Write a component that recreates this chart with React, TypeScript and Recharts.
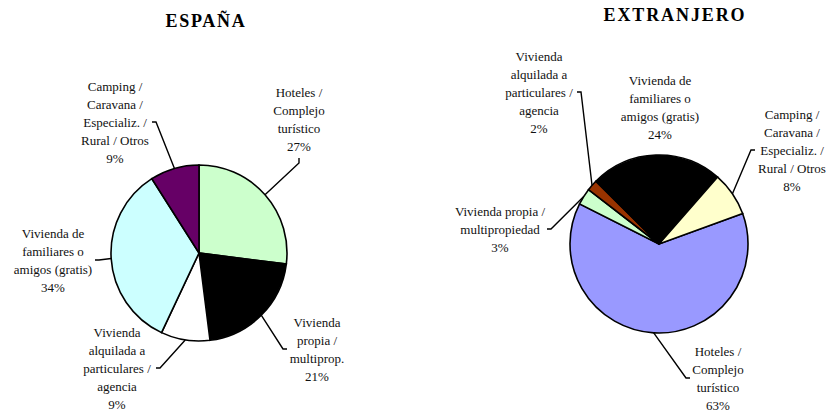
import { PieChart, Pie, Cell } from 'recharts';

// categories in drawing order (clockwise)
const categories = [
  'Hoteles / Complejo turístico',
  'Vivienda propia / multipropiedad',
  'Vivienda alquilada a particulares / agencia',
  'Vivienda de familiares o amigos (gratis)',
  'Camping / Caravana / Especializ. / Rural / Otros',
];

const spainValues = [27, 21, 9, 34, 9];
const abroadValues = [63, 3, 2, 24, 8];

// label text as it wraps on each chart
const spainLines = [
  ['Hoteles /', 'Complejo', 'turístico'],
  ['Vivienda', 'propia /', 'multiprop.'],
  ['Vivienda', 'alquilada a', 'particulares /', 'agencia'],
  ['Vivienda de', 'familiares o', 'amigos (gratis)'],
  ['Camping /', 'Caravana /', 'Especializ. /', 'Rural / Otros'],
];
const abroadLines = [
  ['Hoteles /', 'Complejo', 'turístico'],
  ['Vivienda propia /', 'multipropiedad'],
  ['Vivienda', 'alquilada a', 'particulares /', 'agencia'],
  ['Vivienda de', 'familiares o', 'amigos (gratis)'],
  ['Camping /', 'Caravana /', 'Especializ. /', 'Rural / Otros'],
];

const spainColors = ['#CCFFCC', '#000000', '#FFFFFF', '#CCFFFF', '#660066'];
const abroadColors = ['#9999FF', '#CCFFCC', '#993300', '#000000', '#FFFFCC'];

type Side = 'left' | 'right' | 'bottom' | 'none';
interface LabelPos { dx: number; dy: number; hw: number; side: Side }

// where each label block sits, relative to its pie centre
const spainLabelPos: LabelPos[] = [
  { dx: 100, dy: -134, hw: 30, side: 'bottom' },
  { dx: 118, dy: 96, hw: 30, side: 'left' },
  { dx: -82, dy: 115, hw: 39, side: 'right' },
  { dx: -146, dy: 7, hw: 42, side: 'right' },
  { dx: -84, dy: -131, hw: 37, side: 'right' },
];
const abroadLabelPos: LabelPos[] = [
  { dx: 59, dy: 134, hw: 28, side: 'left' },
  { dx: -159, dy: -15, hw: 47, side: 'right' },
  { dx: -120, dy: -152, hw: 38, side: 'right' },
  { dx: 1, dy: -137, hw: 40, side: 'none' },
  { dx: 133, dy: -94, hw: 37, side: 'left' },
];

const spainData = categories.map((name, i) => ({ name, value: spainValues[i] }));
const abroadData = categories.map((name, i) => ({ name, value: abroadValues[i] }));

const FONT = '"Liberation Serif", "Times New Roman", serif';
const LINE_H = 18;
const RAD = Math.PI / 180;

const makeLabel = (lines: string[][], layout: LabelPos[]) => (props: any) => {
  const { cx, cy, midAngle, outerRadius, index, value } = props;
  const pos = layout[index];
  const text = [...lines[index], `${value}%`];
  const tx = cx + pos.dx;
  const ty = cy + pos.dy;
  const hh = (text.length * LINE_H) / 2;

  const ex = cx + Math.cos(-midAngle * RAD) * outerRadius;
  const ey = cy + Math.sin(-midAngle * RAD) * outerRadius;

  let pts: number[][] = [];
  if (pos.side === 'bottom') {
    pts = [[ex, ey], [tx, ty + hh + 8], [tx, ty + hh + 3]];
  } else if (pos.side === 'left') {
    pts = [[ex, ey], [tx - pos.hw - 4, ty], [tx - pos.hw, ty]];
  } else if (pos.side === 'right') {
    pts = [[ex, ey], [tx + pos.hw + 4, ty], [tx + pos.hw, ty]];
  }

  return (
    <g key={`lbl-${index}`}>
      {pts.length > 0 && (
        <polyline
          points={pts.map((p) => p.join(',')).join(' ')}
          fill="none"
          stroke="#000"
          strokeWidth={1.4}
        />
      )}
      <text textAnchor="middle" fontFamily={FONT} fontSize={13} fill="#111">
        {text.map((t, i) => (
          <tspan key={i} x={tx} y={ty - hh + LINE_H / 2 + i * LINE_H + 5}>
            {t}
          </tspan>
        ))}
      </text>
    </g>
  );
};

export default function App() {
  return (
    <div style={{ position: 'absolute', left: 0, top: 0, background: '#fff' }}>
      <PieChart width={827} height={412} margin={{ top: 0, right: 0, bottom: 0, left: 0 }}>
        <text x={206} y={27} textAnchor="middle" fontFamily={FONT} fontSize={18} fontWeight="bold" letterSpacing={1.7} fill="#000">
          ESPAÑA
        </text>
        <text x={675} y={21} textAnchor="middle" fontFamily={FONT} fontSize={18} fontWeight="bold" letterSpacing={1.9} fill="#000">
          EXTRANJERO
        </text>
        <Pie
          data={spainData}
          dataKey="value"
          nameKey="name"
          cx={199}
          cy={253}
          outerRadius={88}
          startAngle={90}
          endAngle={-270}
          stroke="#000"
          strokeWidth={1.6}
          label={makeLabel(spainLines, spainLabelPos)}
          labelLine={false}
          isAnimationActive={false}
        >
          {spainData.map((d, i) => (
            <Cell key={d.name} fill={spainColors[i]} />
          ))}
        </Pie>
        <Pie
          data={abroadData}
          dataKey="value"
          nameKey="name"
          cx={659}
          cy={244}
          outerRadius={89}
          startAngle={20}
          endAngle={-340}
          stroke="#000"
          strokeWidth={1.6}
          label={makeLabel(abroadLines, abroadLabelPos)}
          labelLine={false}
          isAnimationActive={false}
        >
          {abroadData.map((d, i) => (
            <Cell key={d.name} fill={abroadColors[i]} />
          ))}
        </Pie>
      </PieChart>
    </div>
  );
}
